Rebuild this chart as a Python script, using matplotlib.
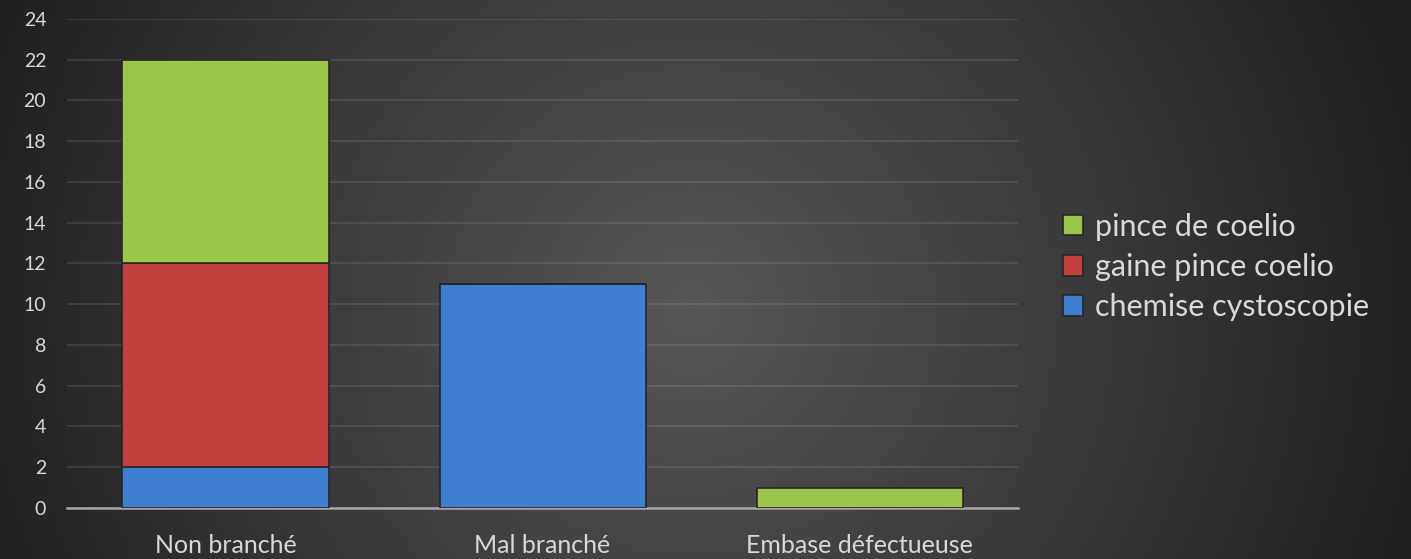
import numpy as np
import matplotlib.pyplot as plt

categories = ['Non branché', 'Mal branché', 'Embase défectueuse']
chemise = [2, 11, 0]
gaine = [10, 0, 0]
pince = [10, 0, 1]
yticks = list(range(0, 25, 2))

c_blue = '#3f7fcf'
c_red = '#c2403e'
c_green = '#9cc54b'
txt = '#d9d9d9'

plt.rcParams['font.family'] = ['Lato', 'DejaVu Sans']

W, H = 1411, 559
fig = plt.figure(figsize=(W / 100, H / 100), dpi=100)

# radial gradient background, lighter in the middle
bg = fig.add_axes([0, 0, 1, 1], zorder=-1)
py, px = np.mgrid[0:H, 0:W]
r = np.clip(np.hypot(px - 690, py - 310) / 760, 0, 1)
v = (0x57 - 0x38 * r) / 255
bg.imshow(np.dstack([v, v, v]), aspect='auto', extent=[0, 1, 0, 1])
bg.set_axis_off()

ax = fig.add_axes([0.0475, 0.0912, 0.674, 0.875])
ax.patch.set_alpha(0)

x = np.arange(len(categories))
w = 0.65
ec = '#262626'
ax.bar(x, chemise, w, color=c_blue, edgecolor=ec, linewidth=1.2, label='chemise cystoscopie', zorder=3)
ax.bar(x, gaine, w, bottom=chemise, color=c_red, edgecolor=ec, linewidth=1.2, label='gaine pince coelio', zorder=3)
bottom2 = [a + b for a, b in zip(chemise, gaine)]
ax.bar(x, pince, w, bottom=bottom2, color=c_green, edgecolor=ec, linewidth=1.2, label='pince de coelio', zorder=3)

ax.set_xlim(-0.5, 2.5)
ax.set_ylim(0, 24)
ax.set_yticks(yticks)
ax.set_xticks(x)
ax.set_xticklabels(categories, fontsize=18, color=txt)
ax.tick_params(axis='y', labelsize=14, colors=txt, length=0, pad=15)
ax.tick_params(axis='x', length=0, pad=19)
ax.grid(axis='y', color='white', alpha=0.12, linewidth=1.2, zorder=0)
for s in ['top', 'right', 'left']:
    ax.spines[s].set_visible(False)
ax.spines['bottom'].set_color('#a6a6a6')
ax.spines['bottom'].set_linewidth(1.8)

h, l = ax.get_legend_handles_labels()
leg = fig.legend(h[::-1], l[::-1], loc='center left', bbox_to_anchor=(0.734, 0.522),
                 frameon=False, fontsize=22, labelcolor=txt, handlelength=0.65,
                 handleheight=0.65, handletextpad=0.4, labelspacing=0.4)

fig.savefig('out.png', dpi=100)
